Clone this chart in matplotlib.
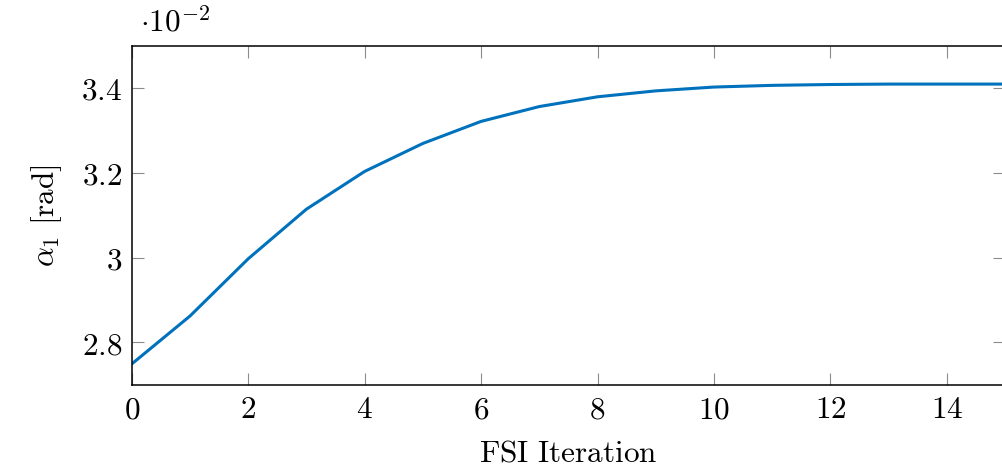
import numpy as np
import matplotlib
matplotlib.use('Agg')
from matplotlib import pyplot as plt
from matplotlib.ticker import FuncFormatter

plt.rcParams['mathtext.fontset'] = 'cm'
plt.rcParams['font.family'] = 'serif'
plt.rcParams['font.serif'] = ['DejaVu Serif']

# FSI iterations and angle alpha_1 [rad]
iterations = np.arange(16)
alpha1 = np.array([2.749, 2.862, 2.997, 3.114, 3.203, 3.269, 3.321, 3.356,
                   3.379, 3.393, 3.402, 3.406, 3.408, 3.409, 3.409, 3.409]) * 1e-2

xticks = [0, 2, 4, 6, 8, 10, 12, 14]
yticks = [2.8e-2, 3.0e-2, 3.2e-2, 3.4e-2]

fs = 22.5

fig = plt.figure(figsize=(10.02, 4.68), dpi=100)
# right spine falls just outside the picture, as in the original
ax = fig.add_axes([131.8 / 1002, 1 - 384.7 / 468, (1005 - 131.8) / 1002, (384.7 - 45.5) / 468])

ax.plot(iterations, alpha1, color='#0072BD', linewidth=2.2)

ax.set_xlim(0, 15)
ax.set_ylim(2.7e-2, 3.5e-2)
ax.set_xticks(xticks)
ax.set_yticks(yticks)
ax.xaxis.set_major_formatter(FuncFormatter(lambda v, p: r'$%d$' % round(v)))
ax.yaxis.set_major_formatter(FuncFormatter(lambda v, p: r'$%g$' % round(v * 100, 3)))

ax.tick_params(direction='in', length=8.5, width=0.8, color='#8c8c8c',
               top=True, right=True, labelsize=fs, pad=7)
for s in ax.spines.values():
    s.set_linewidth(1.1)

ax.set_xlabel(r'$\mathrm{FSI\ Iteration}$', fontsize=fs, labelpad=9)
ax.set_ylabel(r'$\alpha_1\ [\mathrm{rad}]$', fontsize=fs, labelpad=12)

fig.text(140 / 1002, 1 - 24 / 468, r'$\cdot 10^{-2}$', fontsize=fs, va='center', ha='left')

fig.savefig('out.png', dpi=100)
